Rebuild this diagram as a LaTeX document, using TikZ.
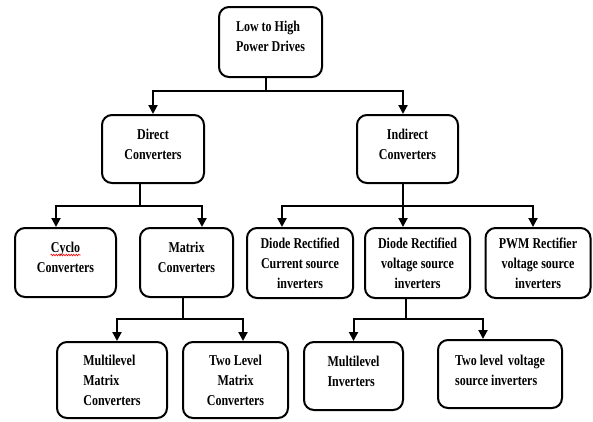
\documentclass[tikz,border=0pt]{standalone}
\usepackage{fontspec}
\newfontfamily\bx{Liberation Serif}[FakeStretch=0.8]
\usetikzlibrary{arrows.meta,decorations.pathmorphing}
\tikzset{
  box/.style={draw=black, line width=2pt, rounded corners=10pt, inner sep=2pt,
    font=\bx\bfseries\fontsize{15}{20}\selectfont, align=center},
  lbox/.style={box, align=left},
  conn/.style={line width=2pt},
  arr/.style={line width=2pt, -{Triangle[length=9pt,width=9pt]}}
}
\begin{document}
\begin{tikzpicture}[x=1pt,y=-1pt]
\useasboundingbox (0,0) rectangle (593,421);
\node[lbox, minimum width=103pt, minimum height=70pt] (top) at (270.5,42) {Low to High\\Power Drives\\[-8pt]};
\node[box, minimum width=102pt, minimum height=68pt] (direct) at (153,149) {Direct\\Converters\\[-10pt]};
\node[box, minimum width=101pt, minimum height=68pt] (indirect) at (407.5,149) {Indirect\\Converters\\[-10pt]};
\node[box, minimum width=101pt, minimum height=69pt] (cyclo) at (65.5,262.5) {Cyclo\\Converters\\[-10pt]};
\node[box, minimum width=93pt, minimum height=69pt] (matrix) at (186.5,262.5) {Matrix\\Converters\\[-10pt]};
\node[box, minimum width=106pt, minimum height=70pt] (dcsi) at (300,263) {Diode Rectified\\Current source\\inverters};
\node[box, minimum width=105pt, minimum height=70pt] (dvsi) at (417.5,263) {Diode Rectified\\voltage source\\inverters};
\node[box, minimum width=105pt, minimum height=70pt] (pwm) at (538,263) {PWM Rectifier\\voltage source\\inverters};
\node[lbox, minimum width=110pt, minimum height=76pt] (mmc) at (112,380) {Multilevel\\Matrix\\Converters};
\node[box, minimum width=105pt, minimum height=76pt] (tlmc) at (235.5,380) {Two Level\\Matrix\\Converters};
\node[lbox, minimum width=99pt, minimum height=68pt] (mli) at (353.5,376) {Multilevel\\Inverters\\[-11pt]};
\node[lbox, minimum width=124pt, minimum height=68pt] (tlv) at (500,374) {Two level\hspace{5pt}voltage\\source inverters\\[-12pt]};
% red spell-check underline
\draw[red, line width=0.6pt, decorate, decoration={snake, amplitude=0.8pt, segment length=2.5pt}]
  ([xshift=-15pt,yshift=7.5pt]cyclo.center) -- ([xshift=15pt,yshift=7.5pt]cyclo.center);
% level 1
\draw[conn] ([xshift=-4.5pt]top.south) -- ++(0,13) coordinate (tb);
\draw[arr] (tb) -| (direct.north);
\draw[arr] (tb) -| ([xshift=-4.5pt]indirect.north);
% direct
\draw[conn] ([xshift=-13pt]direct.south) -- ++(0,22) coordinate (db);
\draw[arr] (db) -| ([xshift=-9.5pt]cyclo.north);
\draw[arr] (db) -| ([xshift=15.5pt]matrix.north);
% indirect
\draw[conn] ([xshift=-4.5pt]indirect.south) -- ++(0,22) coordinate (ib);
\draw[arr] (ib) -| ([xshift=-18pt]dcsi.north);
\draw[arr] (ib) -- ([xshift=-14.5pt]dvsi.north);
\draw[arr] (ib) -| ([xshift=-5pt]pwm.north);
% matrix
\draw[conn] ([xshift=-3.5pt]matrix.south) -- ++(0,21) coordinate (mb);
\draw[arr] (mb) -| ([xshift=5pt]mmc.north);
\draw[arr] (mb) -| ([xshift=7.5pt]tlmc.north);
% dvsi
\draw[conn] ([xshift=-11.5pt]dvsi.south) -- ++(0,20) coordinate (vb);
\draw[arr] (vb) -| (mli.north);
\draw[arr] (vb) -| ([xshift=-17pt]tlv.north);
\end{tikzpicture}
\end{document}
